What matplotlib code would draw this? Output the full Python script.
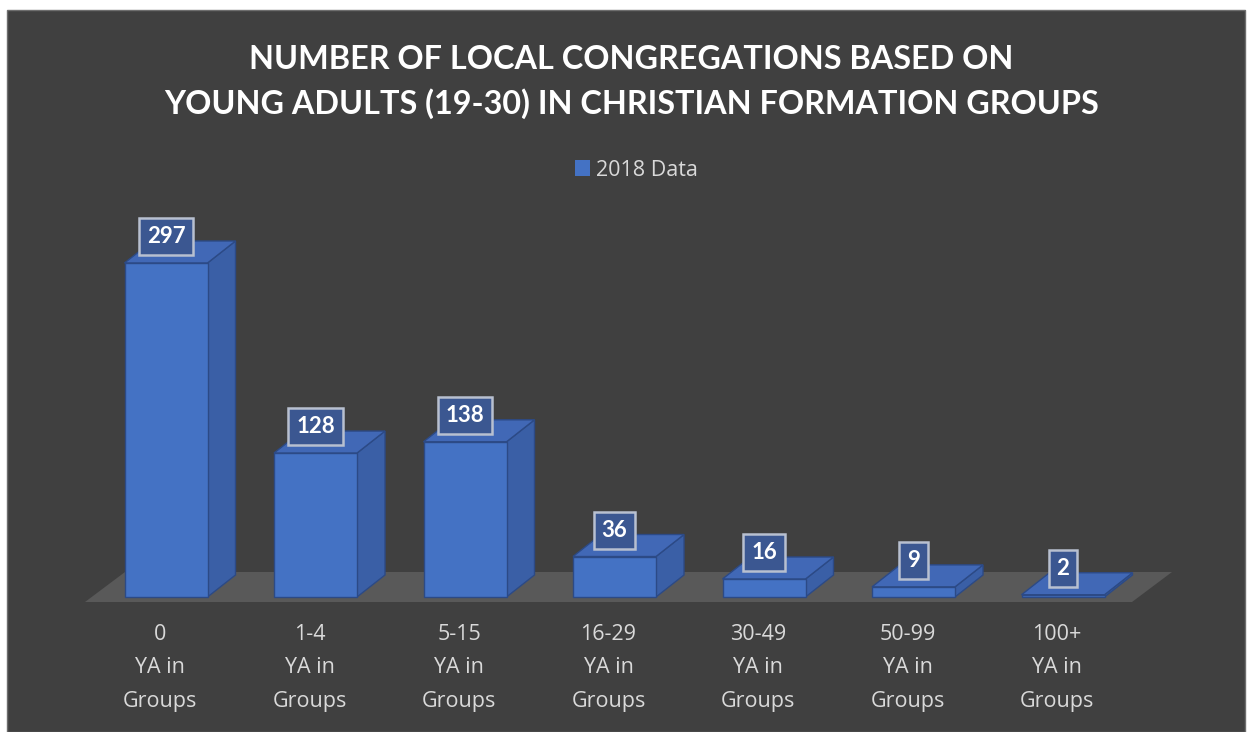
import numpy as np
import matplotlib.pyplot as plt
from matplotlib.patches import Polygon, Rectangle, Patch

# data
categories = ["0", "1-4", "5-15", "16-29", "30-49", "50-99", "100+"]
values = [297, 128, 138, 36, 16, 9, 2]
series_name = "2018 Data"
title = "NUMBER OF LOCAL CONGREGATIONS BASED ON\nYOUNG ADULTS (19-30) IN CHRISTIAN FORMATION GROUPS"

W, H = 1250, 732
bg = "#404040"
front_c = "#4472c4"
side_c = "#3a5fa6"
top_c = "#4168b6"
edge_c = "#2c4a86"
floor_c = "#595959"
txt_c = "#d9d9d9"

# pixel layout of the category axis (px per category, px per unit)
x0_px, step_px = 166, 149.5
base_px, unit_px = 597, 1.1246

fig = plt.figure(figsize=(W / 100, H / 100), dpi=100, facecolor="white")
fig.patches.append(Rectangle((7 / W, 0), 1238 / W, 722 / H, transform=fig.transFigure,
                             facecolor=bg, edgecolor="#6e6e6e", lw=1, zorder=-5))

ax = fig.add_axes([0, 0, 1, 1])
ax.set_xlim(-x0_px / step_px, (W - x0_px) / step_px)
ax.set_ylim(-(H - base_px) / unit_px, base_px / unit_px)
ax.axis("off")
ax.patch.set_alpha(0)

hw = 41.5 / step_px          # half bar width
ddx = 28 / step_px           # depth offset
ddy = 22 / unit_px

# floor
fl_l, fl_r = (85 - x0_px) / step_px, (1132 - x0_px) / step_px
fl_f, fl_dx, fl_dy = -5 / unit_px, 40 / step_px, 30 / unit_px
ax.add_patch(Polygon([(fl_l, fl_f), (fl_r, fl_f), (fl_r + fl_dx, fl_f + fl_dy),
                      (fl_l + fl_dx, fl_f + fl_dy)], closed=True,
                     facecolor=floor_c, edgecolor="none", zorder=1))

for i, v in enumerate(values):
    l, r = i - hw, i + hw
    front = [(l, 0), (r, 0), (r, v), (l, v)]
    side = [(r, 0), (r + ddx, ddy), (r + ddx, v + ddy), (r, v)]
    top = [(l, v), (r, v), (r + ddx, v + ddy), (l + ddx, v + ddy)]
    ax.add_patch(Polygon(side, closed=True, facecolor=side_c, edgecolor=edge_c, lw=1, zorder=2))
    ax.add_patch(Polygon(top, closed=True, facecolor=top_c, edgecolor=edge_c, lw=1, zorder=2))
    ax.add_patch(Polygon(front, closed=True, facecolor=front_c, edgecolor=edge_c, lw=1, zorder=3))
    ax.text(i, v + 16 / unit_px, str(v), ha="center", va="bottom", color="white",
            fontsize=16, fontweight="bold", family="Lato", zorder=5,
            bbox=dict(boxstyle="square,pad=0.36", facecolor="#3b5791", edgecolor="#b8c0d0", lw=1.8))
    ax.text(i - 6 / step_px, -(624 - base_px) / unit_px, f"{categories[i]}\nYA in\nGroups",
            ha="center", va="top", color=txt_c, fontsize=15.5, family="Open Sans", linespacing=1.78)

fig.text(0.505, 1 - 82 / H, title, ha="center", va="center", color="white",
         fontsize=23.3, fontweight="bold", family="Lato", linespacing=1.55)

leg = fig.legend(handles=[Patch(facecolor=front_c, edgecolor="none", label=series_name)],
                 loc="center", bbox_to_anchor=(0.509, 1 - 170 / H), frameon=False,
                 fontsize=15.5, handlelength=0.7, handleheight=0.7, handletextpad=0.3)
for t in leg.get_texts():
    t.set_color(txt_c)
    t.set_family("Open Sans")

fig.savefig("out.png", dpi=100, facecolor="white")
